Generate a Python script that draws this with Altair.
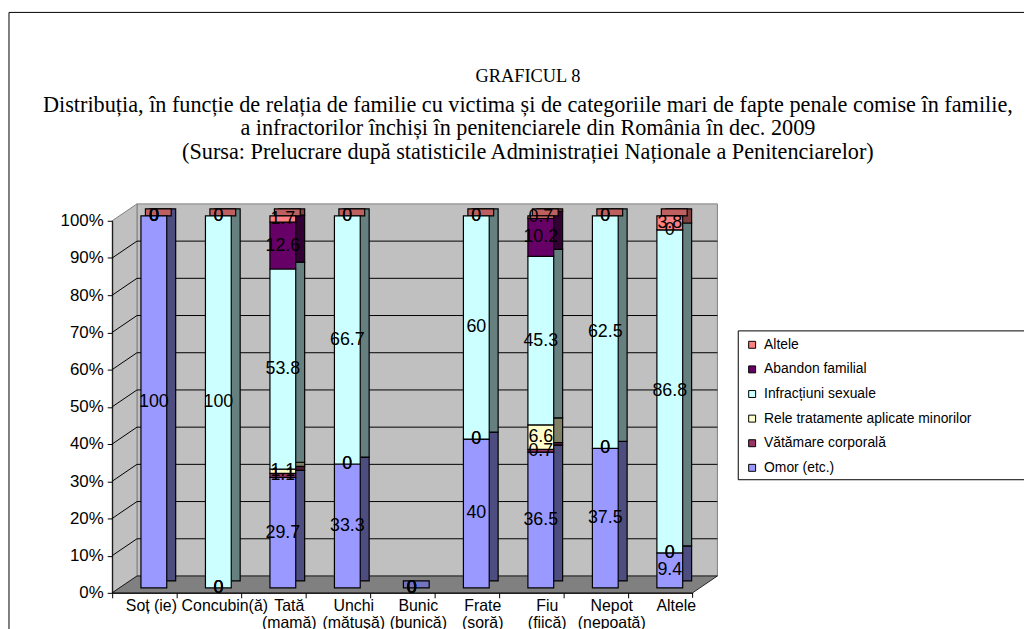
import altair as alt
import pandas as pd

# ---------------- data ----------------
categories = ["Soț (ie)", "Concubin(ă)", "Tată\n(mamă)", "Unchi\n(mătușă)", "Bunic\n(bunică)",
              "Frate\n(soră)", "Fiu\n(fiică)", "Nepot\n(nepoată)", "Altele"]
series = ["Omor (etc.)", "Vătămare corporală", "Rele tratamente aplicate minorilor",
          "Infracțiuni sexuale", "Abandon familial", "Altele"]
omor = [100, 0, 29.7, 33.3, 0, 40, 36.5, 37.5, 9.4]
vatamare = [0, 0, 1.1, 0, 0, 0, 0.7, 0, 0]
rele = [0, 0, 1.1, 0, 0, 0, 6.6, 0, 0]
sexuale = [0, 100, 53.8, 66.7, 0, 60, 45.3, 62.5, 86.8]
abandon = [0, 0, 12.6, 0, 0, 0, 10.2, 0, 0]
altele = [0, 0, 1.7, 0, 0, 0, 0.7, 0, 3.8]
y_ticks = [0, 10, 20, 30, 40, 50, 60, 70, 80, 90, 100]

TITLE = "GRAFICUL 8"
SUB1 = "Distribuția, în funcție de relația de familie cu victima și de categoriile mari de fapte penale comise în familie,"
SUB2 = "a infractorilor închiși în penitenciarele din România în dec. 2009"
SUB3 = "(Sursa: Prelucrare după statisticile Administrației Naționale a Penitenciarelor)"

# ---------------- styles ----------------
front_colors = ["#9999FF", "#993366", "#FFFFCC", "#CCFFFF", "#660066", "#FF8080"]
side_colors = ["#4D4D80", "#4D1A33", "#808066", "#668080", "#330033", "#804040"]
top_colors = ["#7373BF", "#73264D", "#BFBF99", "#99BFBF", "#4D004D", "#BF6060"]

W, H = 585, 375
DX, DY = 25, -17          # depth of walls (px)
SANS = "Liberation Sans"
SERIF = "Liberation Serif"

values_by_series = [omor, vatamare, rele, sexuale, abandon, altele]
rows = []
for ci, cat in enumerate(categories):
    base = 0.0
    for si, s in enumerate(series):
        v = values_by_series[si][ci]
        rows.append(dict(cat=cat, series=s, value=v, y0=base, y1=base + v,
                         mid=base + v / 2, label=f"{v:g}", side=side_colors[si]))
        base += v
df = pd.DataFrame(rows)
nz = df[df["value"] > 0]
tops = df[df["series"] == series[-1]].copy()
tops["topcol"] = [top_colors[-1] if t > 0 else top_colors[0] for t in tops["y1"]]

xscale = alt.Scale(domain=categories, paddingInner=0.6, paddingOuter=0.3)
yscale = alt.Scale(domain=[0, 100], nice=False)

x_axis = alt.Axis(title=None, labelExpr="split(datum.label, '\\n')", labelAngle=0,
                  tickOffset=-32.5,
                  labelOffset={"condition": {"test": "datum.label == 'Soț (ie)'", "value": 39},
                               "value": 48},
                  labelBaseline="top",
                  labelPadding=0, labelLineHeight=17, labelFont=SANS,
                  labelFontSize=16, labelColor="black", domainColor="black",
                  tickColor="black", tickSize=5, labelOverlap=False, zindex=1)
y_axis = alt.Axis(title=None, values=y_ticks, labelExpr="datum.value + '%'",
                  grid=False, labelFont=SANS, labelFontSize=17, labelColor="black",
                  domainColor="black", tickColor="black", tickSize=5,
                  labelPadding=4, zindex=1)

X = alt.X("cat:N", sort=categories, scale=xscale, axis=x_axis)


def Yq(field):
    return alt.Y(field, scale=yscale, axis=y_axis)


# ---------------- decorations ----------------
one = pd.DataFrame({"k": [0]})
border = alt.Chart(one).mark_rect(fill="white", stroke="black", strokeWidth=1).encode(
    x=alt.value(-104), x2=alt.value(1000), y=alt.value(-210), y2=alt.value(500))

legend_box = alt.Chart(one).mark_rect(fill="white", stroke="black", strokeWidth=1).encode(
    x=alt.value(631), x2=alt.value(1000), y=alt.value(111), y2=alt.value(261))

back_wall = alt.Chart(one).mark_rect(fill="#C0C0C0", stroke="#808080", strokeWidth=1).encode(
    x=alt.value(DX), x2=alt.value(W + DX), y=alt.value(DY), y2=alt.value(H + DY))

side_df = pd.DataFrame({"px": [0, DX], "py": [0, DY], "py2": [H, H + DY]})
side_wall = alt.Chart(side_df).mark_area(orient="vertical", fill="#C0C0C0", stroke="#808080",
                                         strokeWidth=1, opacity=1).encode(
    x=alt.X("px:Q", scale=None), y=alt.Y("py:Q", scale=None), y2="py2:Q")

floor_df = pd.DataFrame({"fy": [H + DY, H], "fx": [DX, 0], "fx2": [W + DX, W]})
floor = alt.Chart(floor_df).mark_area(orient="horizontal", fill="#808080", stroke="black",
                                      strokeWidth=0.8, opacity=1).encode(
    y=alt.Y("fy:Q", scale=None), x=alt.X("fx:Q", scale=None), x2="fx2:Q")

grid_df = pd.DataFrame({"g": y_ticks[1:-1]})
grid = alt.Chart(grid_df).mark_rule(color="black", strokeWidth=1, yOffset=DY).encode(
    y=Yq("g:Q"), x=alt.value(DX), x2=alt.value(W + DX))
slants = alt.Chart(grid_df).mark_rule(color="black", strokeWidth=1, y2Offset=DY).encode(
    y=Yq("g:Q"), y2="g:Q", x=alt.value(0), x2=alt.value(DX))
end_tick = alt.Chart(one).mark_rule(color="black", strokeWidth=1).encode(
    x=alt.value(W), y=alt.value(H), y2=alt.value(H + 5))

# ---------------- 3D bars ----------------
sides = alt.Chart(nz).mark_bar(xOffset=18.5, yOffset=-12, y2Offset=-12, stroke="black",
                              strokeWidth=1.2).encode(
    x=X, y=Yq("y0:Q"), y2="y1:Q", fill=alt.Fill("side:N", scale=None))
topface = alt.Chart(tops).mark_bar(xOffset=14, yOffset=-12, y2Offset=-5, stroke="black",
                                  strokeWidth=1.2).encode(
    x=X, y=Yq("y1:Q"), y2="y1:Q", fill=alt.Fill("topcol:N", scale=None))

legend_order = series[::-1]
legend_colors = front_colors[::-1]
fronts = alt.Chart(nz).mark_bar(xOffset=9.5, yOffset=-5, y2Offset=-5, stroke="black",
                               strokeWidth=1.2).encode(
    x=X, y=Yq("y0:Q"), y2="y1:Q",
    color=alt.Color("series:N", scale=alt.Scale(domain=legend_order, range=legend_colors),
                    legend=alt.Legend(title=None, orient="none", legendX=631, legendY=111,
                                      padding=7,
                                      labelFont=SANS, labelFontSize=14, labelColor="black",
                                      symbolType="square", symbolSize=49,
                                      symbolStrokeColor="black", symbolStrokeWidth=1,
                                      rowPadding=10.8, labelOffset=5, labelLimit=400)),
)

labels = alt.Chart(df).mark_text(font=SANS, fontSize=18, color="black", xOffset=9.5,
                                 yOffset=-5, align="center", baseline="middle").encode(
    x=X, y=Yq("mid:Q"), text="label:N")

# ---------------- titles ----------------
def title_line(txt, y, size):
    return alt.Chart(pd.DataFrame({"t": [txt]})).mark_text(
        font=SERIF, fontSize=size, color="black", align="center", baseline="middle").encode(
        x=alt.value(419), y=alt.value(y), text="t:N")

titles = [title_line(TITLE, 74 - 220, 18.5), title_line(SUB1, 103 - 220, 22.4),
          title_line(SUB2, 127 - 220, 22.4), title_line(SUB3, 151 - 220, 22.4)]

chart = alt.layer(border, legend_box, back_wall, side_wall, floor, grid, slants, end_tick,
                  sides, topface, fronts, labels, *titles).properties(
    width=W, height=H,
    autosize=alt.AutoSizeParams(type="none"),
    padding={"left": 105, "top": 212, "right": 334, "bottom": 34},
).configure_view(stroke="transparent")

chart.save("out.html", embed_options={"renderer": "svg", "actions": False})
